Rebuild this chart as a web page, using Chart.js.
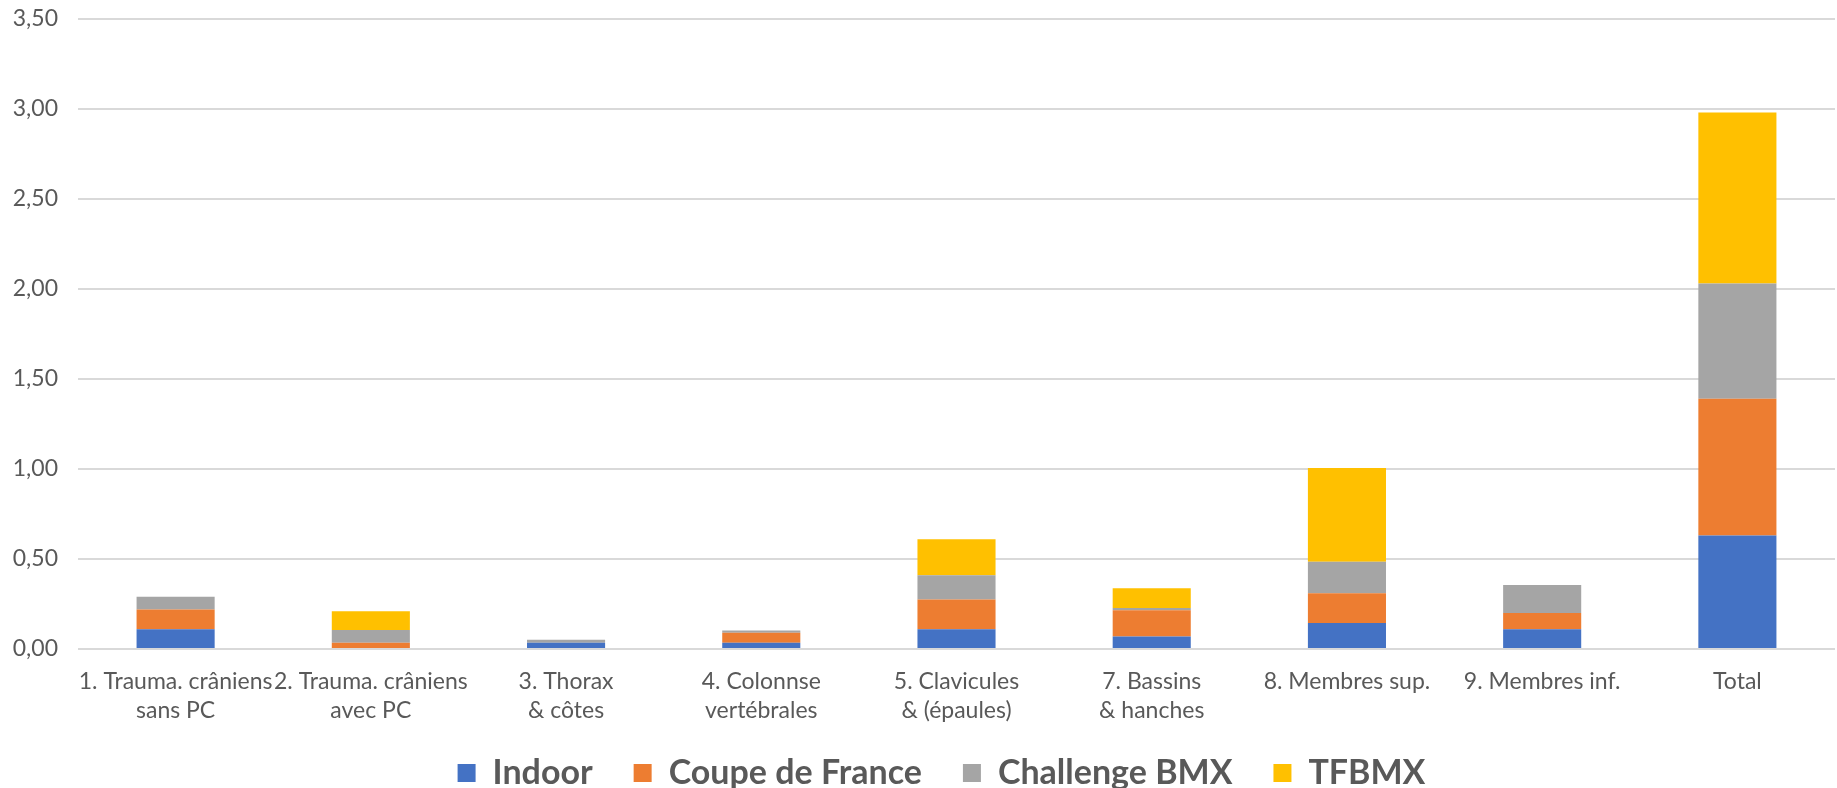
<!DOCTYPE html>
<html>
<head>
<meta charset="utf-8">
<script src="https://cdn.jsdelivr.net/npm/chart.js@4"></script>
<style>
  body { margin: 0; background: #fff; }
</style>
</head>
<body>
<canvas id="barChart" width="1837" height="788"></canvas>
<script>
// Categories (x axis, multi-line)
const categories = [
    ["1. Trauma. crâniens", "sans PC"],
    ["2. Trauma. crâniens", "avec PC"],
    ["3. Thorax", "& côtes"],
    ["4. Colonnse", "vertébrales"],
    ["5. Clavicules", "& (épaules)"],
    ["7. Bassins", "& hanches"],
    "8. Membres sup.",
    "9. Membres inf.",
    "Total"
];

// Series values
const indoor    = [0.11, 0,     0.035, 0.035, 0.11,  0.07,  0.145, 0.11,  0.63];
const coupe     = [0.11, 0.035, 0,     0.055, 0.165, 0.145, 0.165, 0.09,  0.76];
const challenge = [0.07, 0.07,  0.017, 0.013, 0.135, 0.013, 0.175, 0.155, 0.64];
const tfbmx     = [0,    0.105, 0,     0,     0.20,  0.11,  0.52,  0,     0.95];

const seriesNames = ["Indoor", "Coupe de France", "Challenge BMX", "TFBMX"];
const yMax = 3.5;
const yStep = 0.5;

const textColor = '#595959';
const gridColor = '#d9d9d9';

// move the legend a bit (right and up), like the original
const shiftLegend = {
    id: 'shiftLegend',
    afterLayout(chart) {
        chart.legend.left += 24;
        chart.legend.right += 24;
        chart.legend.top -= 8;
    }
};

const barChart = new Chart(document.getElementById('barChart'), {
    type: 'bar',
    data: {
        labels: categories,
        datasets: [
            { label: seriesNames[0], data: indoor,    backgroundColor: '#4472c4' },
            { label: seriesNames[1], data: coupe,     backgroundColor: '#ed7d31' },
            { label: seriesNames[2], data: challenge, backgroundColor: '#a5a5a5' },
            { label: seriesNames[3], data: tfbmx,     backgroundColor: '#ffc000' }
        ]
    },
    options: {
        responsive: false,
        animation: false,
        datasets: {
            bar: { barPercentage: 0.4, categoryPercentage: 1 }
        },
        layout: {
            padding: { top: 19, right: 2, bottom: 0, left: 0 }
        },
        plugins: {
            tooltip: { enabled: false },
            legend: {
                position: 'bottom',
                maxHeight: 65,
                labels: {
                    boxWidth: 18,
                    boxHeight: 18,
                    padding: 41,
                    color: textColor,
                    font: { family: 'Lato', size: 34, weight: 'bold' }
                }
            }
        },
        scales: {
            x: {
                stacked: true,
                grid: { display: false },
                border: { display: false },
                ticks: {
                    color: textColor,
                    autoSkip: false,
                    maxRotation: 0,
                    padding: 10,
                    font: { family: 'Lato', size: 23, lineHeight: 1.26 }
                },
                afterFit: scale => { scale.height = 74; }
            },
            y: {
                stacked: true,
                min: 0,
                max: yMax,
                border: { display: false },
                // invisible tick marks keep the labels off the plot
                grid: { color: gridColor, lineWidth: 2, drawTicks: true, tickLength: 20, tickColor: 'rgba(0,0,0,0)' },
                ticks: {
                    stepSize: yStep,
                    color: textColor,
                    padding: 0,
                    font: { family: 'Lato', size: 23 },
                    callback: value => value.toFixed(2).replace('.', ',')
                },
                afterFit: scale => { scale.width = 78; }
            }
        }
    },
    plugins: [shiftLegend]
});
</script>
</body>
</html>
